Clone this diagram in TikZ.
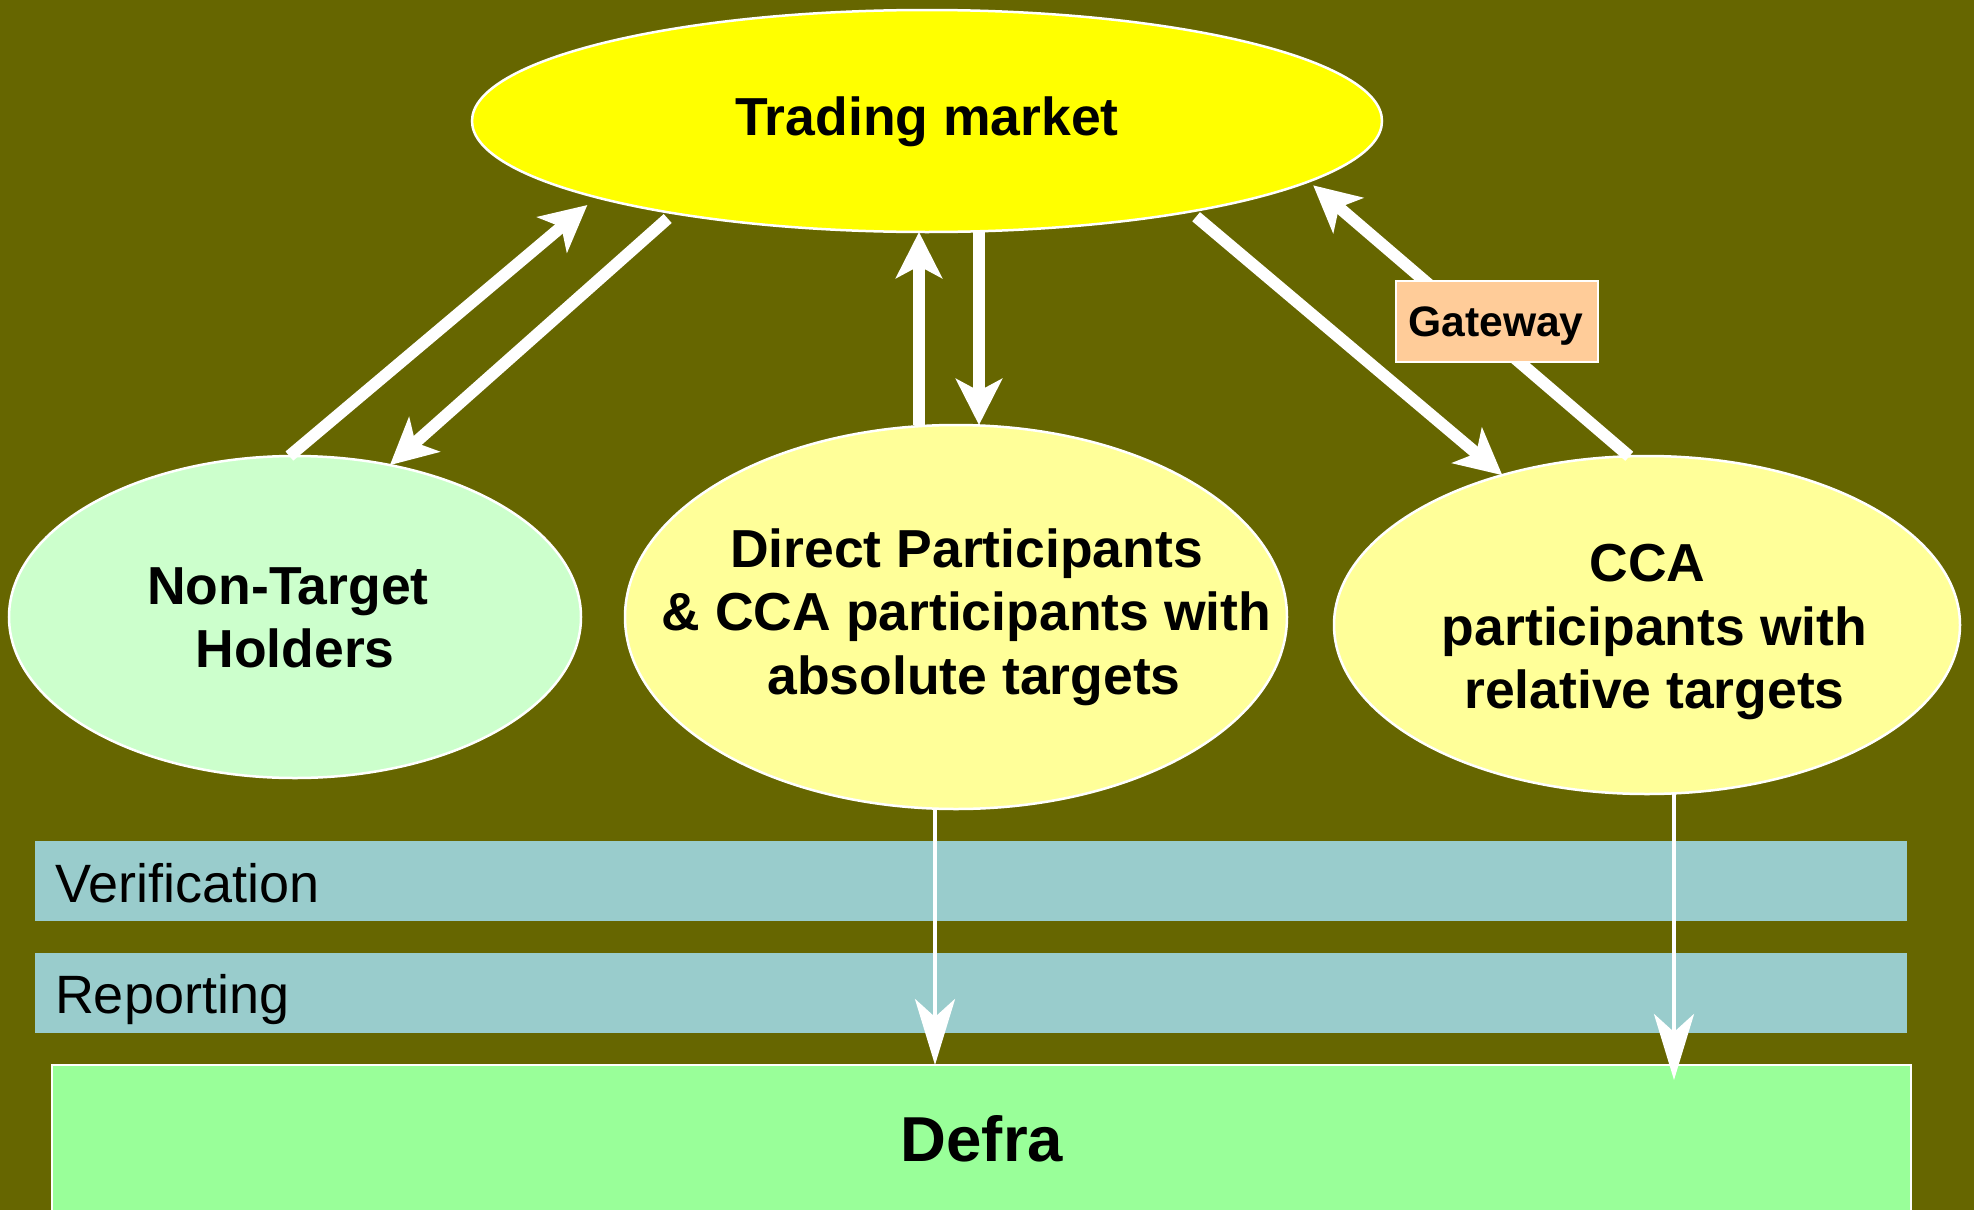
\documentclass[tikz,border=0pt]{standalone}
\usepackage{fontspec}
\setmainfont{Liberation Sans}
\usetikzlibrary{arrows.meta,shapes.geometric,calc}
\definecolor{bgol}{HTML}{666600}
\definecolor{tmyel}{HTML}{FFFF00}
\definecolor{ntgrn}{HTML}{CCFFCC}
\definecolor{ptyel}{HTML}{FFFF99}
\definecolor{bandc}{HTML}{99CCCC}
\definecolor{defrac}{HTML}{99FF99}
\definecolor{gwc}{HTML}{FFCC99}
\tikzset{
  ell/.style={ellipse, draw=white, line width=2.5pt, inner sep=0pt, outer sep=0pt},
  band/.style={rectangle, fill=bandc, inner sep=0pt, outer sep=0pt},
  bigtxt/.style={inner sep=0pt, outer sep=0pt, align=center, font=\bfseries\fontsize{53.5}{63.5}\selectfont},
  bandtxt/.style={inner sep=0pt, outer sep=0pt, anchor=base west, font=\fontsize{54}{63}\selectfont},
  thickarrow/.style={draw=white, line width=12pt, -{Stealth[length=46pt,width=46pt,inset=12pt]}},
  thinarrow/.style={draw=white, line width=4.5pt, -{Stealth[length=66pt,width=40pt,inset=18pt]}},
}
\begin{document}
\begin{tikzpicture}[x=1pt,y=-1pt]
\useasboundingbox (0,0) rectangle (1974,1210);
\fill[bgol] (0,0) rectangle (1974,1210);
% bands
\node[band, minimum width=1872pt, minimum height=80pt] (ver) at (971,881) {};
\node[band, minimum width=1872pt, minimum height=80pt] (rep) at (971,993) {};
\node[bandtxt] (vertxt) at (55,902) {Verification};
\node[bandtxt] (reptxt) at (55,1013) {Reporting};
% Defra
\node[rectangle, fill=defrac, draw=white, line width=2.5pt, inner sep=0pt, outer sep=0pt,
      minimum width=1859pt, minimum height=170pt] (defra) at (981.5,1150) {};
\node[inner sep=0pt, anchor=base, font=\bfseries\fontsize{63.5}{70}\selectfont] (defratxt) at (982,1161) {Defra};
% ellipses
\node[ell, fill=tmyel, minimum width=910pt, minimum height=222pt] (tm) at (927,121) {};
\node[ell, fill=ntgrn, minimum width=572pt, minimum height=322pt] (nt) at (295,617) {};
\node[ell, fill=ptyel, minimum width=662pt, minimum height=384pt] (direct) at (956,617) {};
\node[ell, fill=ptyel, minimum width=626pt, minimum height=338pt] (cca) at (1647,625) {};
% labels
\node[bigtxt, anchor=base] (tmtxt) at (927,135) {Trading market};
\node[bigtxt] (nttxt) at (295,617.6) {Non-Target\kern14pt\\Holders};
\node[bigtxt] (directtxt) at (966.5,617) {Direct Participants\\\&\ CCA participants with\\\kern15pt absolute targets};
\node[bigtxt] (ccatxt) at (1654.5,632) {CCA\kern14pt\\participants with\\relative targets};
% arrows
\draw[thickarrow, shorten >=12pt] (nt.92) -- (tm.193.2);
\draw[thickarrow, shorten <=8pt] (tm.200.1) -- (nt.58.5);
\coordinate (a3) at ([xshift=-37pt]direct.north);
\draw[thickarrow] (a3) -- (a3 |- tm.south);
\coordinate (a4) at ([xshift=52pt]tm.south);
\draw[thickarrow] (a4) -- (a4 |- direct.north);
\draw[thickarrow, shorten <=8pt] (tm.341.6) -- (cca.134.1);
\draw[thickarrow, shorten >=6pt] (cca.96.4) -- (tm.351.0);
\coordinate (a7) at ([xshift=-21pt]direct.south);
\draw[thinarrow] (a7) -- (a7 |- defra.north);
\coordinate (a8) at ([xshift=27pt]cca.south);
\draw[thinarrow, shorten >=-15pt] (a8) -- (a8 |- defra.north);
% gateway
\node[rectangle, fill=gwc, draw=white, line width=2.5pt, inner sep=0pt, outer sep=0pt,
      minimum width=202pt, minimum height=81pt] (gw) at (1497,321.5) {};
\node[inner sep=0pt, anchor=base, font=\bfseries\fontsize{42.6}{50}\selectfont] (gwtxt) at (1496,336) {Gateway};
\end{tikzpicture}
\end{document}
